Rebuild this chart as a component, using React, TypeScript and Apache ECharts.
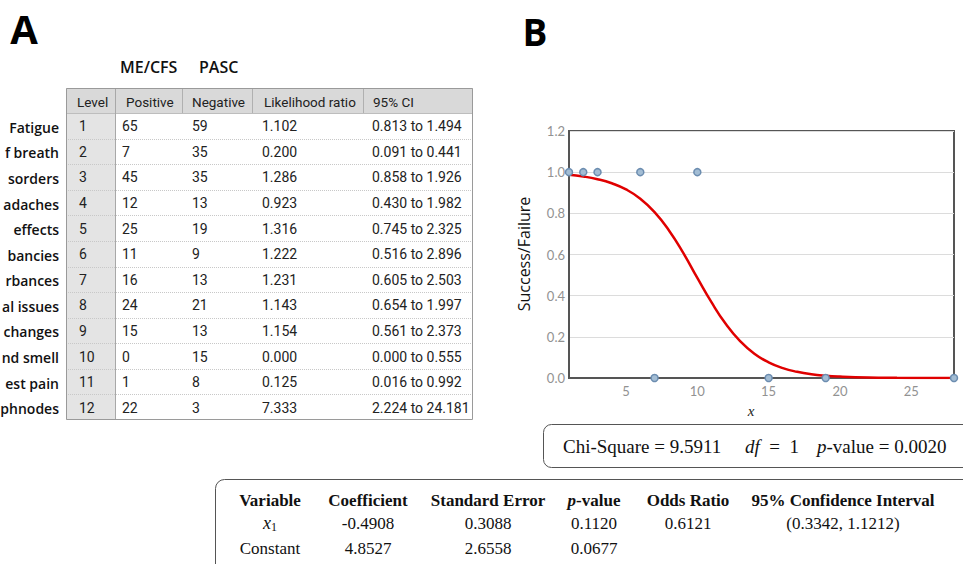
import React, { useEffect, useRef } from "react";
import * as echarts from "echarts";

// ---------- Panel A table data ----------
const rowLabels = ["Fatigue", "f breath", "sorders", "adaches", "effects", "bancies", "rbances", "al issues", "changes", "nd smell", "est pain", "phnodes"];
const levels = [1, 2, 3, 4, 5, 6, 7, 8, 9, 10, 11, 12];
const positives = [65, 7, 45, 12, 25, 11, 16, 24, 15, 0, 1, 22];
const negatives = [59, 35, 35, 13, 19, 9, 13, 21, 13, 15, 8, 3];
const likelihoodRatios = ["1.102", "0.200", "1.286", "0.923", "1.316", "1.222", "1.231", "1.143", "1.154", "0.000", "0.125", "7.333"];
const ciLow = ["0.813", "0.091", "0.858", "0.430", "0.745", "0.516", "0.605", "0.654", "0.561", "0.000", "0.016", "2.224"];
const ciHigh = ["1.494", "0.441", "1.926", "1.982", "2.325", "2.896", "2.503", "1.997", "2.373", "0.555", "0.992", "24.181"];
const tableHeaders = ["Level", "Positive", "Negative", "Likelihood ratio", "95% CI"];
const groupLabels = ["ME/CFS", "PASC"];

// ---------- Panel B chart data ----------
const successX = [1, 2, 3, 6, 10];
const failureX = [7, 15, 19, 28];
const curveX = [1, 2, 3, 4, 5, 6, 7, 8, 9, 10, 11, 12, 13, 14, 15, 16, 17, 18, 19, 20, 22, 24, 26, 28];
const curveY = [0.987, 0.979, 0.966, 0.946, 0.916, 0.871, 0.806, 0.718, 0.609, 0.486, 0.367, 0.262, 0.179, 0.118, 0.076, 0.048, 0.030, 0.018, 0.011, 0.007, 0.0026, 0.001, 0.0004, 0.0001];
const xTicks = [5, 10, 15, 20, 25];

// ---------- statistics ----------
const chiSquare = "9.5911";
const chiDf = "1";
const chiP = "0.0020";
const regHeaders = ["Variable", "Coefficient", "Standard Error", "p-value", "Odds Ratio", "95% Confidence Interval"];
const regVariables = ["x1", "Constant"];
const coefficients = ["-0.4908", "4.8527"];
const stdErrors = ["0.3088", "2.6558"];
const pValues = ["0.1120", "0.0677"];
const oddsRatios = ["0.6121", ""];
const confIntervals = ["(0.3342, 1.1212)", ""];

const SANS = "Open Sans";
const TBL = "Roboto";
const SERIF = "Liberation Serif";

function buildGraphics() {
  const g: any[] = [];
  // panel letters
  g.push({ type: "text", x: 24, y: 28, style: { text: "A", fontFamily: SANS, fontWeight: 700, fontSize: 40, fill: "#000", align: "center", verticalAlign: "middle" } });
  g.push({ type: "text", x: 535, y: 31, style: { text: "B", fontFamily: SANS, fontWeight: 700, fontSize: 37, fill: "#000", align: "center", verticalAlign: "middle" } });
  // group labels
  const gx = [120, 199];
  groupLabels.forEach((t, i) => {
    g.push({ type: "text", x: gx[i], y: 67, style: { text: t, fontFamily: SANS, fontWeight: 600, fontSize: 16, fill: "#111", align: "left", verticalAlign: "middle" } });
  });

  // table geometry
  const L = 66, R = 473, T = 88, H = 25, rowH = (420 - 113) / 12;
  const colB = [66, 115, 182, 252, 363, 473];
  const headX = [77, 126, 192, 264, 373];
  const dataX = [79, 122, 192, 262, 372];
  const bottom = T + H + rowH * levels.length;
  g.push({ type: "rect", shape: { x: L, y: T + H, width: R - L, height: bottom - T - H }, style: { fill: "#fff" } });
  g.push({ type: "rect", shape: { x: L, y: T, width: R - L, height: H }, style: { fill: "#d9d9d9" } });
  g.push({ type: "rect", shape: { x: L, y: T + H, width: colB[1] - L, height: bottom - T - H }, style: { fill: "#e4e4e4" } });
  // row separators (dotted)
  for (let i = 1; i < levels.length; i++) {
    const y = Math.round(T + H + rowH * i) + 0.5;
    g.push({ type: "line", shape: { x1: L, y1: y, x2: R, y2: y }, style: { stroke: "#c8c8c8", lineWidth: 1, lineDash: [1, 1] } });
  }
  // header separators
  for (let i = 1; i < colB.length - 1; i++) {
    g.push({ type: "line", shape: { x1: colB[i] + 0.5, y1: T, x2: colB[i] + 0.5, y2: T + H }, style: { stroke: "#b0b0b0", lineWidth: 1 } });
  }
  g.push({ type: "line", shape: { x1: L, y1: T + H + 0.5, x2: R, y2: T + H + 0.5 }, style: { stroke: "#bdbdbd", lineWidth: 1 } });
  g.push({ type: "line", shape: { x1: colB[1] + 0.5, y1: T, x2: colB[1] + 0.5, y2: bottom }, style: { stroke: "#a8a8a8", lineWidth: 1 } });
  g.push({ type: "rect", shape: { x: L + 0.5, y: T + 0.5, width: R - L - 1, height: bottom - T - 1 }, style: { fill: "none", stroke: "#9a9a9a", lineWidth: 1 } });

  tableHeaders.forEach((t, i) => {
    g.push({ type: "text", x: headX[i], y: T + H / 2 + 1, style: { text: t, fontFamily: TBL, fontSize: 13.5, fill: "#222", align: "left", verticalAlign: "middle" } });
  });
  levels.forEach((lv, r) => {
    const y = T + H + rowH * r + rowH / 2 + 0.5;
    const vals = [String(lv), String(positives[r]), String(negatives[r]), likelihoodRatios[r], ciLow[r] + " to " + ciHigh[r]];
    vals.forEach((v, c) => {
      g.push({ type: "text", x: dataX[c], y, style: { text: v, fontFamily: TBL, fontSize: 14, fill: "#222", align: "left", verticalAlign: "middle" } });
    });
    g.push({ type: "text", x: 59, y: y + 1, style: { text: rowLabels[r], fontFamily: SANS, fontWeight: 600, fontSize: 14, fill: "#111", align: "right", verticalAlign: "middle" } });
  });

  // y axis title
  g.push({ type: "text", x: 524, y: 254, rotation: Math.PI / 2, style: { text: "Success/Failure", fontFamily: SANS, fontSize: 16, fontWeight: 500, fill: "#111", align: "center", verticalAlign: "middle" } });
  // x axis title (partly visible)
  g.push({ type: "text", x: 751, y: 411, style: { text: "x", fontFamily: SERIF, fontStyle: "italic", fontSize: 15, fill: "#222", align: "center", verticalAlign: "middle" } });

  // chi-square box
  g.push({ type: "rect", shape: { x: 543.5, y: 424.5, width: 440, height: 43, r: 8 }, style: { fill: "#fff", stroke: "#555", lineWidth: 1 } });
  const serifRich = {
    n: { fontFamily: SERIF, fontSize: 19, fill: "#111" },
    i: { fontFamily: SERIF, fontSize: 19, fontStyle: "italic", fill: "#111" },
  };
  g.push({ type: "text", x: 563, y: 446, style: { text: "Chi-Square = " + chiSquare, fontFamily: SERIF, fontSize: 19, fill: "#111", align: "left", verticalAlign: "middle" } });
  g.push({ type: "text", x: 745, y: 446, style: { text: "{i|df}{n|  =  " + chiDf + "}", rich: serifRich, align: "left", verticalAlign: "middle" } });
  g.push({ type: "text", x: 817, y: 446, style: { text: "{i|p}{n|-value = " + chiP + "}", rich: serifRich, align: "left", verticalAlign: "middle" } });

  // regression table box
  g.push({ type: "rect", shape: { x: 215.5, y: 479.5, width: 800, height: 120, r: 9 }, style: { fill: "#fff", stroke: "#555", lineWidth: 1 } });
  const colC = [270, 368, 488, 594, 688, 843];
  const hRich = {
    b: { fontFamily: SERIF, fontSize: 17, fontWeight: "bold", fill: "#111" },
    bi: { fontFamily: SERIF, fontSize: 17, fontWeight: "bold", fontStyle: "italic", fill: "#111" },
  };
  regHeaders.forEach((t, i) => {
    const txt = t.startsWith("p-") ? "{bi|p}{b|" + t.slice(1) + "}" : "{b|" + t + "}";
    g.push({ type: "text", x: colC[i], y: 500, style: { text: txt, rich: hRich, align: "center", verticalAlign: "middle" } });
  });
  const rRich = {
    n: { fontFamily: SERIF, fontSize: 17, fill: "#111" },
    i: { fontFamily: SERIF, fontSize: 18, fontStyle: "italic", fill: "#111" },
    s: { fontFamily: SERIF, fontSize: 12, fill: "#111", padding: [8, 0, 0, 0] },
  };
  const rowY = [523, 548];
  regVariables.forEach((v, r) => {
    const cells = [v, coefficients[r], stdErrors[r], pValues[r], oddsRatios[r], confIntervals[r]];
    cells.forEach((c, i) => {
      if (!c) return;
      let txt = "{n|" + c + "}";
      if (i === 0 && /^x\d$/.test(c)) txt = "{i|x}{s|" + c.slice(1) + "}";
      g.push({ type: "text", x: colC[i], y: rowY[r], style: { text: txt, rich: rRich, align: "center", verticalAlign: "middle" } });
    });
  });
  return g;
}

export default function App() {
  const ref = useRef<HTMLDivElement>(null);
  useEffect(() => {
    if (!ref.current) return;
    const chart = echarts.init(ref.current, null, { renderer: "svg" });
    const option: any = {
      animation: false,
      backgroundColor: "#fff",
      grid: { left: 569, top: 131, right: 9, bottom: 186, show: true, borderColor: "#555", borderWidth: 2 },
      xAxis: {
        type: "value",
        min: 1,
        max: 28,
        axisLine: { lineStyle: { color: "#555", width: 2 } },
        axisTick: { show: false },
        splitLine: { show: false },
        axisLabel: { customValues: xTicks, color: "#929292", fontSize: 13, fontFamily: "Lato", margin: 6 },
      },
      yAxis: {
        type: "value",
        min: 0,
        max: 1.2,
        interval: 0.2,
        axisLine: { show: true, lineStyle: { color: "#555", width: 2 } },
        axisTick: { show: false },
        splitLine: { lineStyle: { color: "#dcdcdc", width: 1 } },
        axisLabel: { formatter: (v: number) => v.toFixed(1), color: "#929292", fontSize: 13, fontFamily: "Lato", margin: 4 },
      },
      series: [
        {
          type: "line",
          data: curveX.map((x, i) => [x, curveY[i]]),
          smooth: true,
          showSymbol: false,
          lineStyle: { color: "#e00000", width: 2.5 },
          z: 2,
        },
        {
          type: "scatter",
          data: successX.map((x) => [x, 1]).concat(failureX.map((x) => [x, 0])),
          symbolSize: 7,
          itemStyle: { color: "#a3bdd4", borderColor: "#6c8db0", borderWidth: 1.5, opacity: 1 },
          z: 3,
          clip: false,
        },
      ],
      graphic: buildGraphics(),
    };
    chart.setOption(option);
    return () => chart.dispose();
  }, []);
  return <div ref={ref} style={{ position: "absolute", left: 0, top: 0, width: 963, height: 564 }} />;
}
